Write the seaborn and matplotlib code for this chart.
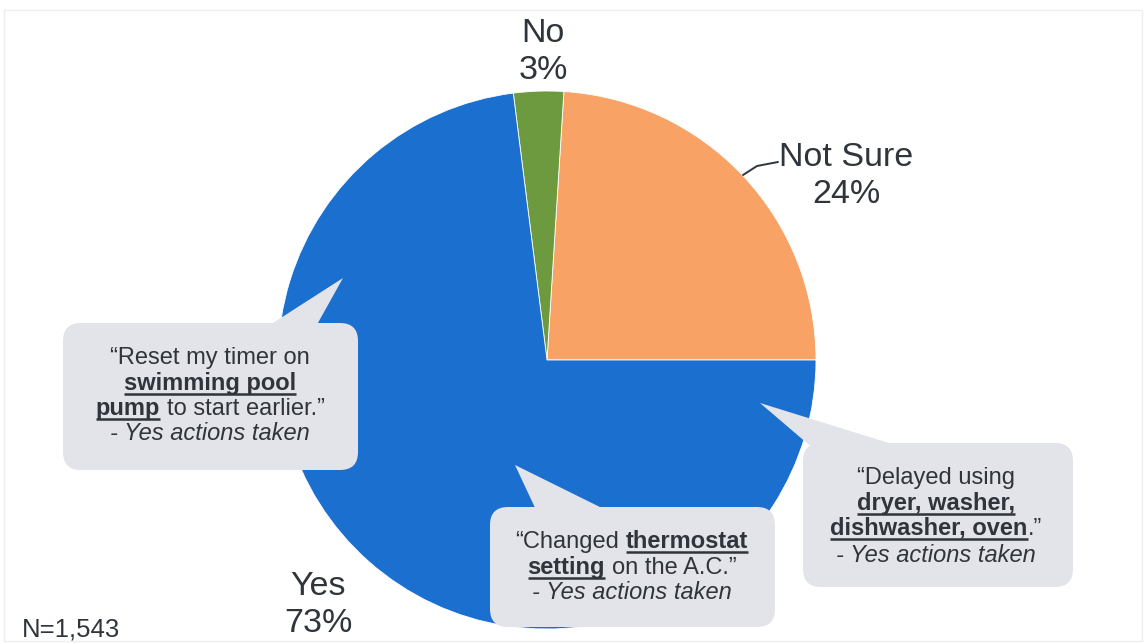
import matplotlib
matplotlib.use("Agg")
import matplotlib.pyplot as plt
from matplotlib.patches import FancyBboxPatch, Polygon, Rectangle
import seaborn as sns

# ---- data -------------------------------------------------------------
categories = ["Not Sure", "No", "Yes"]
shares = [24, 3, 73]
slice_colors = ["#F9A266", "#6E9A3F", "#1B6FCF"]
sample_note = "N=1,543"

# Quote lines: list of (text, emphasised, space_before)
quote_pool = [
    [("“Reset my timer on", False, False)],
    [("swimming pool", True, False)],
    [("pump", True, False), ("to start earlier.”", False, True)],
]
quote_thermostat = [
    [("“Changed", False, False), ("thermostat", True, True)],
    [("setting", True, False), ("on the A.C.”", False, True)],
]
quote_appliances = [
    [("“Delayed using", False, False)],
    [("dryer, washer,", True, False)],
    [("dishwasher, oven", True, False), (".”", False, False)],
]
attribution = "- Yes actions taken"

# ---- style ------------------------------------------------------------
sns.set_theme(style="white")
plt.rcParams["font.family"] = ["Liberation Sans", "DejaVu Sans"]
ink = "#30353B"
bubble_fc = "#E3E4E9"

W, H = 1146, 644


def Y(y):
    """Convert a top-origin pixel row to axes data units."""
    return H - y


fig = plt.figure(figsize=(W / 100, H / 100), dpi=100)
ax = fig.add_axes([0, 0, 1, 1])

palette = sns.color_palette(slice_colors)
ax.pie(shares, colors=palette, startangle=0, counterclock=True,
       center=(547, Y(360)), radius=269,
       wedgeprops=dict(edgecolor="white", linewidth=0.6))
ax.set_xlim(0, W)
ax.set_ylim(0, H)
ax.set_aspect("equal")
ax.axis("off")

# faint outer frame
ax.add_patch(Rectangle((4, Y(641)), 1138, 631, fill=False,
                       edgecolor="#EEEEEE", linewidth=1.0))

# ---- slice labels -----------------------------------------------------
big = 24.5
label_pos = {"Not Sure": (846, 176), "No": (543, 52), "Yes": (318, 605)}
for name, val in zip(categories, shares):
    x, y = label_pos[name]
    ax.text(x, Y(y), f"{name}\n{val}%", ha="center", va="center",
            fontsize=big, color=ink, linespacing=1.22)

# leader line for "Not Sure"
ax.plot([743, 757, 778], [Y(175), Y(166), Y(162)], color=ink, lw=1.4,
        solid_capstyle="round")

ax.text(22, Y(630), sample_note, ha="left", va="center", fontsize=18.5,
        color=ink)

# ---- speech bubbles ---------------------------------------------------
renderer = fig.canvas.get_renderer()
qsize = 17.0


def text_width(s, **kw):
    t = ax.text(0, 0, s, fontsize=qsize, **kw)
    w = t.get_window_extent(renderer=renderer).width
    t.remove()
    return w


space_w = text_width("a a") - text_width("aa")


def bubble(x0, y0, x1, y1, tip, base_a, base_b, r=18):
    ax.add_patch(FancyBboxPatch((x0 + r, Y(y1) + r), (x1 - x0) - 2 * r,
                                (y1 - y0) - 2 * r,
                                boxstyle=f"round,pad={r},rounding_size={r}",
                                fc=bubble_fc, ec="none", zorder=3))
    ax.add_patch(Polygon([(tip[0], Y(tip[1])), (base_a[0], Y(base_a[1])),
                          (base_b[0], Y(base_b[1]))], closed=True,
                         fc=bubble_fc, ec="none", zorder=3))


def draw_line(cx, baseline, segments, italic=False):
    items = []
    for text, emph, gap in segments:
        kw = dict(fontweight="bold" if emph else "normal",
                  fontstyle="italic" if italic else "normal")
        t = ax.text(0, Y(baseline), text, fontsize=qsize, color=ink,
                    ha="left", va="baseline", zorder=5, **kw)
        w = t.get_window_extent(renderer=renderer).width
        items.append((t, w, emph, gap))
    total = sum(w for _, w, _, _ in items) + sum(
        space_w for _, _, _, g in items if g)
    x = cx - total / 2
    for t, w, emph, gap in items:
        if gap:
            x += space_w
        t.set_x(x)
        if emph:
            ax.plot([x, x + w], [Y(baseline + 3.5)] * 2, color=ink, lw=1.8,
                    solid_capstyle="butt", zorder=5)
        x += w


def quote_block(cx, baselines, lines):
    for b, segs in zip(baselines, lines):
        draw_line(cx, b, segs)
    draw_line(cx, baselines[len(lines)], [(attribution, False, False)],
              italic=True)


bubble(63, 323, 358, 470, tip=(343, 278), base_a=(262, 330),
       base_b=(314, 330))
quote_block(210, [364, 390, 415, 440], quote_pool)

bubble(490, 507, 775, 627, tip=(515, 465), base_a=(537, 512),
       base_b=(610, 512))
quote_block(632, [548, 574, 599], quote_thermostat)

bubble(803, 443, 1073, 587, tip=(760, 403), base_a=(815, 450),
       base_b=(905, 448))
quote_block(936, [484, 510, 535, 562], quote_appliances)

fig.savefig("out.png", dpi=100)
